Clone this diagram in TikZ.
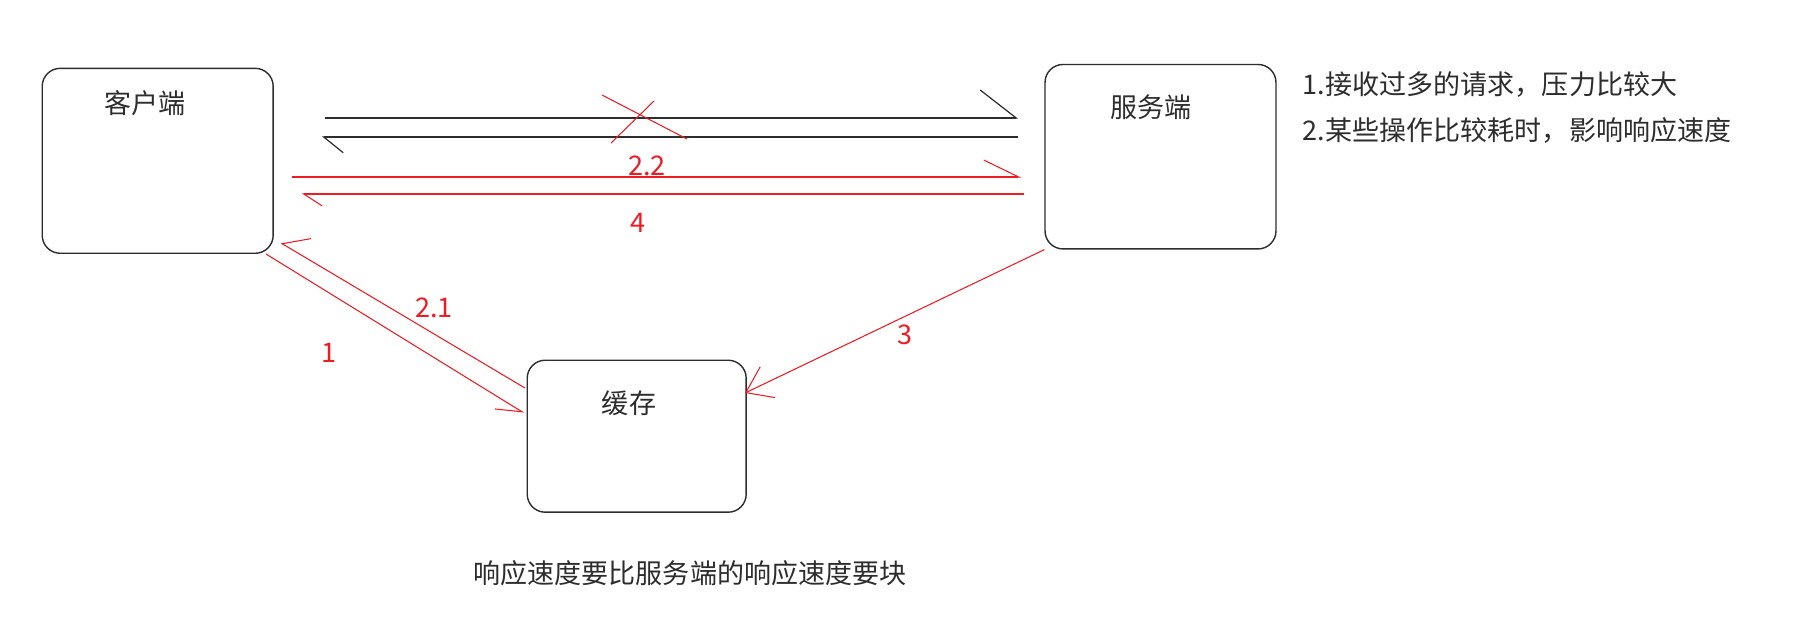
\documentclass[tikz,border=0pt]{standalone}
\usepackage{fontspec}
\newfontfamily\cjk{Noto Sans CJK SC}
\usetikzlibrary{arrows.meta}
\definecolor{paintred}{RGB}{237,28,36}
\definecolor{inkgray}{RGB}{45,45,45}
\tikzset{
  endbox/.style={draw=inkgray, line width=0.8pt, rounded corners=0.36cm},
  boxtitle/.style={text=inkgray, inner sep=0pt},
  note/.style={text=inkgray, inner sep=0pt, anchor=west},
  numlabel/.style={text=paintred, inner sep=0pt},
  reqline/.style={draw=inkgray, line width=0.7pt},
  redline/.style={draw=paintred, line width=0.6pt},
  barbL/.style 2 args={arrows={-Straight Barb[left, length=#1, width=#2]}},
  barbR/.style 2 args={arrows={-Straight Barb[right, length=#1, width=#2]}}
}

\begin{document}
\begin{tikzpicture}[x=0.02cm, y=-0.02cm, every node/.style={font=\cjk\fontsize{15.4pt}{18pt}\selectfont}]
  \useasboundingbox (0,0) rectangle (1804,620);
  % the three boxes
  \node[endbox, minimum width=4.62cm, minimum height=3.7cm] (client) at (157.7,160.8) {};
  \node[endbox, minimum width=4.62cm, minimum height=3.69cm] (server) at (1160.5,156.7) {};
  \node[endbox, minimum width=4.38cm, minimum height=3.04cm] (cache) at (636.7,436.2) {};
  \node[boxtitle] (clienttxt) at (145,103) {客户端};
  \node[boxtitle] (servertxt) at (1151,107) {服务端};
  \node[boxtitle] (cachetxt) at (629,403) {缓存};

  % notes
  \node[note] (load) at (1302.6,85) {1.接收过多的请求，压力比较大};
  \node[note] (slow) at (1302.6,130) {2.某些操作比较耗时，影响响应速度};
  \node[boxtitle] (faster) at (690,573) {响应速度要比服务端的响应速度要块};

  % end points
  \coordinate (reqS) at (325,118);
  \coordinate (reqE) at (1018,118);
  \coordinate (repS) at (1018,137);
  \coordinate (repE) at (322,137);
  \coordinate (askS) at (292,177);
  \coordinate (askE) at (1021,177);
  \coordinate (backS) at (1024,194);
  \coordinate (backE) at (302,194);
  \coordinate (hitS) at (266,254);
  \coordinate (hitE) at (524,413);
  \coordinate (missS) at (525,388);
  \coordinate (missE) at (281,243);
  \coordinate (syncE) at (745,393);
  \coordinate (crossA) at (602,95);
  \coordinate (crossB) at (687,139);
  \coordinate (crossC) at (654,101);
  \coordinate (crossD) at (611,143);

  % direct way, crossed out
  \draw[reqline, barbL={0.72cm}{1.12cm}] (reqS) -- (reqE);
  \draw[reqline, barbL={0.39cm}{0.63cm}] (repS) -- (repE);
  \draw[redline] (crossA) -- (crossB);
  \draw[redline] (crossC) -- (crossD);

  % through the cache
  \draw[redline, barbL={0.7cm}{0.68cm}] (askS) -- (askE);
  \draw[redline, barbL={0.37cm}{0.48cm}] (backS) -- (backE);
  \draw[redline, barbR={0.49cm}{0.47cm}] (hitS) -- (hitE);
  \draw[redline, barbR={0.44cm}{0.76cm}] (missS) -- (missE);
  \draw[redline, arrows={-Straight Barb[length=0.48cm, width=0.68cm]}] (server.south west) -- (syncE);

  \node[numlabel] (n22) at (647,166) {2.2};
  \node[numlabel] (n4) at (638,223) {4};
  \node[numlabel] (n21) at (434,308) {2.1};
  \node[numlabel] (n1) at (329,353) {1};
  \node[numlabel] (n3) at (905,335) {3};
\end{tikzpicture}
\end{document}
